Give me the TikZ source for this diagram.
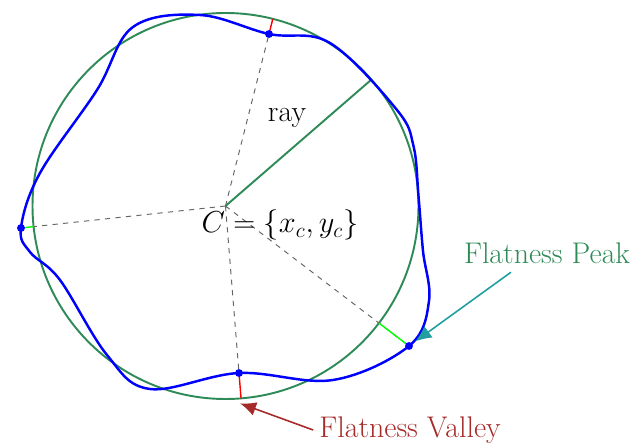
\documentclass[tikz,border=0pt]{standalone}
\usepackage{amsmath}
\usepackage{amssymb}
\usetikzlibrary{positioning,calc,arrows.meta}

\definecolor{ringgreen}{RGB}{46,139,87}
\definecolor{peakteal}{RGB}{32,158,160}
\definecolor{valleyred}{RGB}{165,42,42}

\begin{document}
\begin{tikzpicture}[
    lbl/.style={font=\fontsize{17}{20}\selectfont},
    dot/.style={circle, fill=blue, inner sep=0pt, minimum size=4.5pt},
    raydash/.style={dashed, gray!80!black, line width=0.55pt},
    gapline/.style={line width=0.8pt},
  ]
  \useasboundingbox (-4.51,-4.74) rectangle (8.21,4.12);

  \coordinate (C) at (0,0);
  \coordinate (pT) at (0.87,3.44);
  \coordinate (pL) at (-4.09,-0.44);
  \coordinate (pB) at (0.27,-3.34);
  \coordinate (pR) at (3.67,-2.80);
  \coordinate (rayend) at (40.9:3.86);

  % points on the fitted circle
  \coordinate (cT) at ($(C)!3.86cm!(pT)$);
  \coordinate (cL) at ($(C)!3.86cm!(pL)$);
  \coordinate (cB) at ($(C)!3.86cm!(pB)$);
  \coordinate (cR) at ($(C)!3.86cm!(pR)$);

  \draw[ringgreen, line width=1.1pt] (C) circle (3.86);

  \draw[raydash] (C) -- (pT) (C) -- (pL) (C) -- (pB) (C) -- (pR);
  \draw[ringgreen, line width=1.1pt] (C) -- (rayend);

  \draw[blue, line width=1.4pt] plot[smooth cycle, tension=0.6] coordinates {
    (pL) (-3.71,0.66) (-2.57,2.32) (-1.85,3.58) (-0.51,3.82) (pT)
    (2.09,3.26) (3.43,1.92) (3.76,1.20) (3.86,0.20) (3.95,-0.90)
    (4.07,-1.90) (pR) (2.15,-3.48) (pB) (-1.51,-3.66) (-2.37,-2.98)
    (-3.31,-1.48) (-3.91,-0.92)
  };

  \draw[gapline, red] (pT) -- (cT) (pB) -- (cB);
  \draw[gapline, green] (pL) -- (cL) (pR) -- (cR);

  \node[dot] (dT) at (pT) {};
  \node[dot] (dL) at (pL) {};
  \node[dot] (dB) at (pB) {};
  \node[dot] (dR) at (pR) {};

  \node[lbl] (raylbl) at (1.23,1.76) {ray};
  \node[lbl] (eq) at (1.09,-0.38) {$C = \{x_c, y_c\}$};
  \node[lbl, text=ringgreen] (peak) at (6.43,-0.94) {Flatness Peak};
  \node[lbl, text=valleyred] (valley) at (3.69,-4.48) {Flatness Valley};

  \draw[peakteal, line width=0.9pt, -{Latex[length=3.2mm, width=2.8mm]},
    shorten >=0.16cm] ($(peak.south)+(-0.72,-0.05)$) -- (dR.center);
  \draw[valleyred, line width=0.9pt, -{Latex[length=3.2mm, width=2.8mm]}]
    (valley.west) -- ($(cB)+(-0.02,-0.1)$);
\end{tikzpicture}
\end{document}
